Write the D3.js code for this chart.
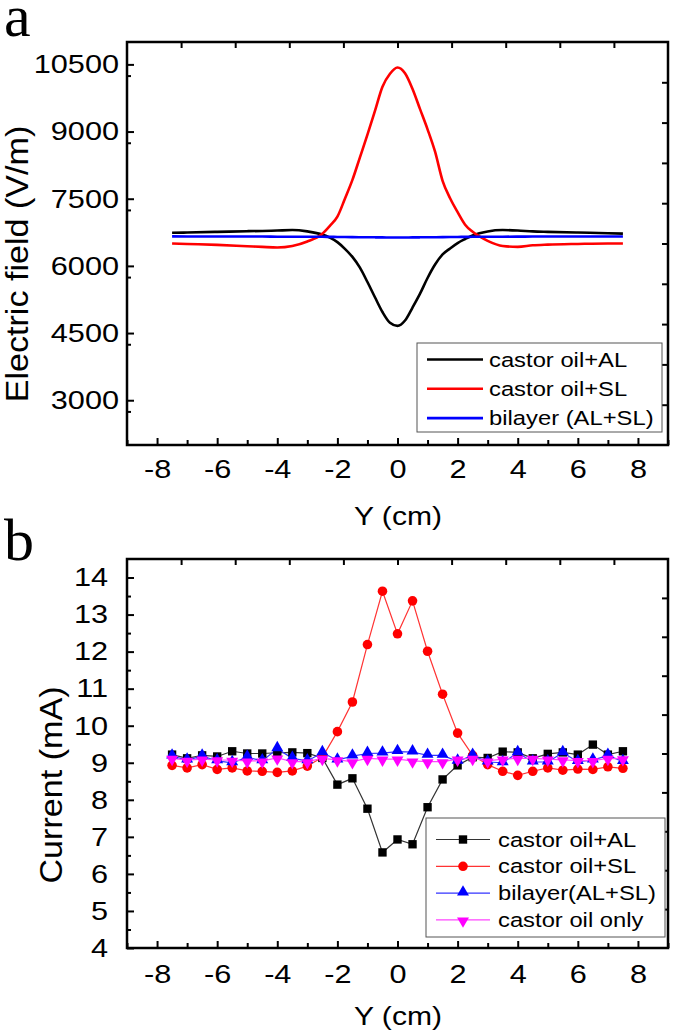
<!DOCTYPE html>
<html><head><meta charset="utf-8">
<script src="https://cdn.jsdelivr.net/npm/d3@7"></script>
<style>
body{margin:0;background:#fff}
svg text{font-family:"Liberation Sans",Arial,sans-serif;fill:#000}
</style>
</head><body>
<svg id="c" width="675" height="1033"></svg>
<script>
// ---------- data: panel a (electric field) ----------
const posA = [-7.5,-7,-6,-5,-4.5,-4,-3.5,-3,-2.5,-2.25,-2,-1.75,-1.5,-1.25,-1,-0.75,-0.5,-0.25,0,0.25,0.5,0.75,1,1.25,1.5,1.75,2,2.25,2.5,3,3.5,4,4.5,5,6,7,7.5];
const fieldAL = [6740,6745,6760,6775,6780,6790,6800,6770,6700,6630,6530,6380,6200,5960,5640,5300,4970,4730,4660,4780,5070,5380,5730,6030,6255,6390,6510,6600,6680,6770,6800,6790,6770,6760,6745,6730,6720];
const fieldSL = [6500,6490,6470,6440,6425,6412,6445,6545,6720,6895,7100,7500,7920,8425,8930,9460,10000,10290,10430,10300,9950,9500,9050,8550,7900,7510,7200,6920,6760,6560,6445,6425,6460,6475,6490,6500,6500];
const fieldBi = [6660,6658,6655,6655,6655,6652,6650,6650,6650,6648,6646,6645,6643,6641,6640,6638,6636,6635,6634,6635,6636,6638,6640,6641,6643,6645,6646,6648,6650,6650,6652,6653,6655,6655,6656,6656,6656];
const seriesA = ["castor oil+AL","castor oil+SL","bilayer (AL+SL)"];
const fieldTicks = [3000,4500,6000,7500,9000,10500];

// ---------- data: panel b (current) ----------
const posB = [-7.5,-7,-6.5,-6,-5.5,-5,-4.5,-4,-3.5,-3,-2.5,-2,-1.5,-1,-0.5,0,0.5,1,1.5,2,2.5,3,3.5,4,4.5,5,5.5,6,6.5,7,7.5];
const currAL = [9.22,9.12,9.20,9.17,9.31,9.25,9.25,9.27,9.28,9.26,9.13,8.41,8.58,7.76,6.58,6.93,6.80,7.80,8.55,8.93,9.15,9.13,9.30,9.28,9.12,9.24,9.28,9.22,9.49,9.22,9.31];
const currSL = [8.93,8.86,8.95,8.82,8.86,8.78,8.77,8.74,8.78,8.91,9.15,9.84,10.64,12.19,13.63,12.48,13.37,12.01,10.85,9.80,9.20,8.95,8.77,8.66,8.77,8.86,8.80,8.83,8.82,8.89,8.85];
const currBi = [9.18,9.07,9.18,9.05,9.00,9.15,9.05,9.38,9.12,9.05,9.27,9.07,9.18,9.25,9.26,9.30,9.29,9.20,9.20,9.04,9.20,9.02,9.00,9.27,9.02,9.02,9.27,9.03,9.07,9.20,9.03];
const currOil = [9.12,9.07,9.10,9.08,9.07,9.05,9.05,9.13,9.03,9.03,9.12,9.08,9.03,9.12,9.10,9.10,9.05,9.03,9.03,9.10,9.12,9.05,9.10,9.12,9.12,9.10,9.08,9.06,9.06,9.12,9.11];
const seriesB = ["castor oil+AL","castor oil+SL","bilayer(AL+SL)","castor oil only"];
const currTicks = [4,5,6,7,8,9,10,11,12,13,14];
const xTicks = [-8,-6,-4,-2,0,2,4,6,8];

// ---------- layout ----------
const SX = 1.18;          // horizontal stretch of the glyphs in the reference
const svg = d3.select("#c");
const colA = ["#000000","#ff0000","#0000ff"];
const colB = ["#000000","#ff0000","#0000ff","#ff00ff"];
const lineColB = ["#333333","#ff3333","#3333ff","#ff44ff"];
const fmt = d => String(d);   // plain hyphen-minus, as in the reference

function stretchText(sel){
  sel.each(function(){
    const t = d3.select(this);
    const x = +t.attr("x") || 0;
    t.attr("x", x / SX).attr("transform", `scale(${SX},1)`);
  });
}

function frame(box, xScale, yScale, yMajor, yMinor, yPad, xPad){
  const g = svg.append("g");
  const gb = g.append("g").attr("transform",`translate(0,${box.b})`)
    .call(d3.axisBottom(xScale).tickValues(xTicks).tickSize(-7).tickPadding(xPad).tickFormat(fmt));
  g.append("g").attr("transform",`translate(0,${box.b})`)
    .call(d3.axisBottom(xScale).tickValues(d3.range(-9,10,2)).tickSize(-5).tickFormat(""));
  const gl = g.append("g").attr("transform",`translate(${box.l},0)`)
    .call(d3.axisLeft(yScale).tickValues(yMajor).tickSize(-7).tickPadding(yPad).tickFormat(fmt));
  g.append("g").attr("transform",`translate(${box.l},0)`)
    .call(d3.axisLeft(yScale).tickValues(yMinor).tickSize(-4).tickFormat(""));
  const tScale = d3.scaleLinear().domain([0,10]).range([box.l, box.r]);
  g.append("g").attr("transform",`translate(0,${box.t})`)
    .call(d3.axisTop(tScale).tickValues(d3.range(1,10)).tickSize(-6).tickFormat(""));
  const rScale = d3.scaleLinear().domain([0,10]).range([box.b, box.t]);
  g.append("g").attr("transform",`translate(${box.r},0)`)
    .call(d3.axisRight(rScale).tickValues(d3.range(1,10)).tickSize(-6).tickFormat(""));
  g.selectAll(".domain").remove();
  g.selectAll(".tick line").attr("stroke","#000").attr("stroke-width",2);
  g.selectAll(".tick text").attr("font-size",26).attr("font-family",'"Liberation Sans",Arial,sans-serif').attr("fill","#000");
  stretchText(gb.selectAll(".tick text"));
  stretchText(gl.selectAll(".tick text"));
  g.append("rect").attr("x",box.l).attr("y",box.t).attr("width",box.r-box.l).attr("height",box.b-box.t)
    .attr("fill","none").attr("stroke","#000").attr("stroke-width",2.5);
}

function stext(x, y, str, size, anchor, rot){
  const t = svg.append("text").attr("font-size",size).attr("text-anchor",anchor||"start");
  if (rot) t.attr("transform",`translate(${x},${y}) rotate(-90) scale(1.1,1)`);
  else t.attr("transform",`translate(${x},${y}) scale(${SX},1)`);
  t.text(str);
  return t;
}

// ================= Panel a =================
const boxA = {l:127, r:668, t:42, b:445};
const xA = d3.scaleLinear().domain([-9,9]).range([boxA.l, boxA.r]);
const yA = d3.scaleLinear().domain([2000,11000]).range([boxA.b, boxA.t]);
const lineA = d3.line().x(d=>xA(d[0])).y(d=>yA(d[1])).curve(d3.curveMonotoneX);
[fieldAL, fieldSL, fieldBi].forEach((arr,i)=>{
  svg.append("path").datum(posA.map((p,k)=>[p,arr[k]]))
    .attr("d",lineA).attr("fill","none").attr("stroke",colA[i]).attr("stroke-width",2.6);
});
frame(boxA, xA, yA, fieldTicks, d3.range(2750,11000,1500), 8, 15);

const legA = svg.append("g");
legA.append("rect").attr("x",417).attr("y",343).attr("width",245).attr("height",89)
  .attr("fill","#fff").attr("stroke","#555").attr("stroke-width",1);
seriesA.forEach((s,i)=>{
  const y = 359.5 + i*29.3;
  legA.append("line").attr("x1",427).attr("x2",483).attr("y1",y).attr("y2",y)
    .attr("stroke",colA[i]).attr("stroke-width",2.6);
  legA.append("text").attr("font-size",19.5).attr("transform",`translate(489,${y+7}) scale(1.22,1)`).text(s);
});

svg.append("text").attr("x",4).attr("y",36).attr("font-size",60)
  .style("font-family",'"Liberation Serif","Times New Roman",serif').text("a");
stext(27.5, 264, "Electric field (V/m)", 31, "middle", true);
stext(398, 525, "Y (cm)", 25.5, "middle");

// ================= Panel b =================
const boxB = {l:127, r:668, t:559, b:948};
const xB = d3.scaleLinear().domain([-9,9]).range([boxB.l, boxB.r]);
const yB = d3.scaleLinear().domain([4,14.5]).range([boxB.b, boxB.t]);
const lineB = d3.line().x(d=>xB(d[0])).y(d=>yB(d[1]));
const sym = [d3.symbolSquare, d3.symbolCircle, d3.symbolTriangle, d3.symbolTriangle];
const symSize = [70, 72, 62, 62];
const seriesDataB = [currAL, currSL, currBi, currOil];
seriesDataB.forEach((arr,i)=>{
  const pts = posB.map((p,k)=>[p,arr[k]]);
  svg.append("path").datum(pts).attr("d",lineB).attr("fill","none")
    .attr("stroke",lineColB[i]).attr("stroke-width",1.2);
});
seriesDataB.forEach((arr,i)=>{
  const pts = posB.map((p,k)=>[p,arr[k]]);
  svg.append("g").selectAll("path").data(pts).join("path")
    .attr("d", d3.symbol().type(sym[i]).size(symSize[i]))
    .attr("transform", d=>`translate(${xB(d[0])},${yB(d[1]) + (i===2?-1:(i===3?1:0))})${i===3?" rotate(180)":""}`)
    .attr("fill", colB[i]);
});
frame(boxB, xB, yB, currTicks, d3.range(4.5,14.5,1), 19, 17);

const legB = svg.append("g");
legB.append("rect").attr("x",426).attr("y",818).attr("width",239).attr("height",119)
  .attr("fill","#fff").attr("stroke","#555").attr("stroke-width",1);
seriesB.forEach((s,i)=>{
  const y = 839.5 + i*26.8;
  legB.append("line").attr("x1",436).attr("x2",490).attr("y1",y).attr("y2",y)
    .attr("stroke",lineColB[i]).attr("stroke-width",1.2);
  legB.append("path").attr("d", d3.symbol().type(sym[i]).size(symSize[i]))
    .attr("transform",`translate(463,${y + (i===2?-1:(i===3?1:0))})${i===3?" rotate(180)":""}`)
    .attr("fill",colB[i]);
  legB.append("text").attr("font-size",19.5).attr("transform",`translate(498,${y+7}) scale(1.22,1)`).text(s);
});

svg.append("text").attr("x",4).attr("y",560).attr("font-size",60)
  .style("font-family",'"Liberation Serif","Times New Roman",serif').text("b");
stext(62, 785, "Current (mA)", 31, "middle", true);
stext(398, 1025, "Y (cm)", 25.5, "middle");
</script>
</body></html>
